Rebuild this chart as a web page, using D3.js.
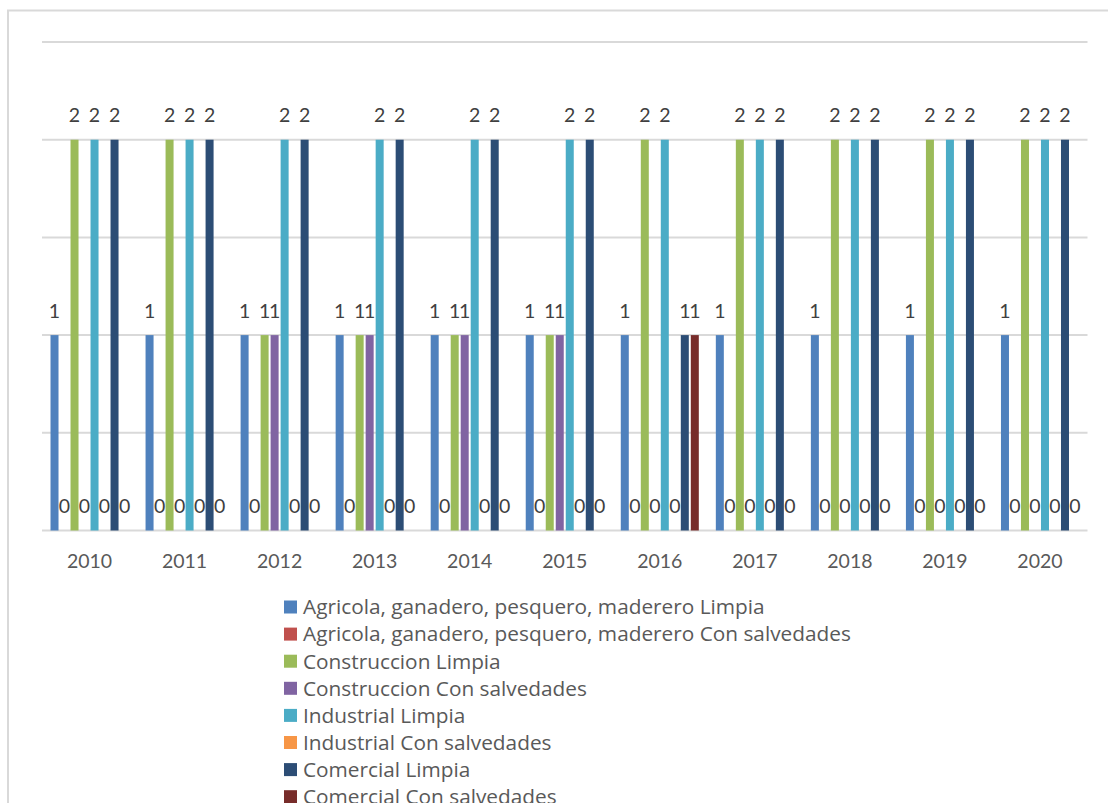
<!DOCTYPE html>
<html>
<head>
<meta charset="utf-8">
<script src="https://cdn.jsdelivr.net/npm/d3@7"></script>
<style>
  html, body { margin: 0; padding: 0; background: #fff; }
  svg { display: block; }
  text { font-family: Lato, "Noto Sans", sans-serif; }
  text.legend-label { font-family: "Open Sans", "Noto Sans", sans-serif; }
</style>
</head>
<body>
<svg id="chart" width="1108" height="803"></svg>
<script>
// Years on the category axis
const years = ["2010", "2011", "2012", "2013", "2014", "2015", "2016", "2017", "2018", "2019", "2020"];

// Series names (sector + opinion type)
const seriesNames = [
  "Agricola, ganadero, pesquero, maderero Limpia",
  "Agricola, ganadero, pesquero, maderero Con salvedades",
  "Construccion Limpia",
  "Construccion Con salvedades",
  "Industrial Limpia",
  "Industrial Con salvedades",
  "Comercial Limpia",
  "Comercial Con salvedades"
];

const seriesColors = ["#4F81BD", "#C0504D", "#9BBB59", "#8064A2", "#4BACC6", "#F79646", "#2C4D75", "#772C2A"];

// Counts per series, one value per year 2010..2020
const agricolaLimpia       = [1, 1, 1, 1, 1, 1, 1, 1, 1, 1, 1];
const agricolaSalvedades   = [0, 0, 0, 0, 0, 0, 0, 0, 0, 0, 0];
const construccionLimpia   = [2, 2, 1, 1, 1, 1, 2, 2, 2, 2, 2];
const construccionSalved   = [0, 0, 1, 1, 1, 1, 0, 0, 0, 0, 0];
const industrialLimpia     = [2, 2, 2, 2, 2, 2, 2, 2, 2, 2, 2];
const industrialSalvedades = [0, 0, 0, 0, 0, 0, 0, 0, 0, 0, 0];
const comercialLimpia      = [2, 2, 2, 2, 2, 2, 1, 2, 2, 2, 2];
const comercialSalvedades  = [0, 0, 0, 0, 0, 0, 1, 0, 0, 0, 0];

const seriesValues = [agricolaLimpia, agricolaSalvedades, construccionLimpia, construccionSalved,
                      industrialLimpia, industrialSalvedades, comercialLimpia, comercialSalvedades];

// Value axis gridlines
const yTicks = [0, 0.5, 1, 1.5, 2, 2.5];

const svg = d3.select("#chart");

// Chart area frame
svg.append("rect")
  .attr("x", 8).attr("y", 10.5)
  .attr("width", 1200).attr("height", 900)
  .attr("fill", "#fff")
  .attr("stroke", "#d9d9d9").attr("stroke-width", 2);

const plot = { left: 42, right: 1087.5, top: 42, bottom: 530.5 };

const y = d3.scaleLinear().domain([0, 2.5]).range([plot.bottom, plot.top]);

const x0 = d3.scaleBand()
  .domain(years)
  .range([plot.left, plot.right])
  .paddingInner(0.158)
  .paddingOuter(0.079);

const x1 = d3.scaleBand()
  .domain(d3.range(seriesNames.length))
  .range([0, x0.bandwidth()])
  .paddingInner(0.2)
  .paddingOuter(0.1);

// Horizontal gridlines
svg.append("g")
  .selectAll("line")
  .data(yTicks)
  .join("line")
  .attr("x1", plot.left).attr("x2", plot.right)
  .attr("y1", d => y(d)).attr("y2", d => y(d))
  .attr("stroke", "#d9d9d9").attr("stroke-width", 2);

// Rows of data: one entry per (year, series)
const cells = [];
years.forEach((yr, i) => {
  seriesValues.forEach((vals, s) => {
    cells.push({ year: yr, s: s, v: vals[i] });
  });
});

// Bars
svg.append("g")
  .selectAll("rect")
  .data(cells.filter(d => d.v > 0))
  .join("rect")
  .attr("x", d => x0(d.year) + x1(d.s))
  .attr("width", x1.bandwidth())
  .attr("y", d => y(d.v))
  .attr("height", d => y(0) - y(d.v))
  .attr("fill", d => seriesColors[d.s]);

// Value labels above each bar
svg.append("g")
  .selectAll("text")
  .data(cells)
  .join("text")
  .attr("x", d => x0(d.year) + x1(d.s) + x1.bandwidth() / 2)
  .attr("y", d => y(d.v) - 17.5)
  .attr("text-anchor", "middle")
  .attr("font-size", "19.5px")
  .attr("fill", "#404040")
  .text(d => d.v);

// Category axis
const xAxis = svg.append("g")
  .attr("transform", `translate(0,${plot.bottom})`)
  .call(d3.axisBottom(x0).tickSize(0).tickPadding(20));
xAxis.select(".domain").remove();
xAxis.attr("font-family", null).attr("font-size", null);
xAxis.selectAll("text")
  .attr("font-size", "19.5px")
  .attr("fill", "#595959")
  .attr("dy", "0")
  .attr("y", 37.5);

// Legend
const legend = svg.append("g").attr("transform", "translate(284,607)");
const item = legend.selectAll("g")
  .data(seriesNames)
  .join("g")
  .attr("transform", (d, i) => `translate(0,${i * 27.1})`);
item.append("rect")
  .attr("x", 0).attr("y", -6.5)
  .attr("width", 13).attr("height", 13)
  .attr("fill", (d, i) => seriesColors[i]);
item.append("text")
  .attr("class", "legend-label")
  .attr("x", 19).attr("y", 7.3)
  .attr("font-size", "20.8px")
  .attr("fill", "#595959")
  .text(d => d);
</script>
</body>
</html>
